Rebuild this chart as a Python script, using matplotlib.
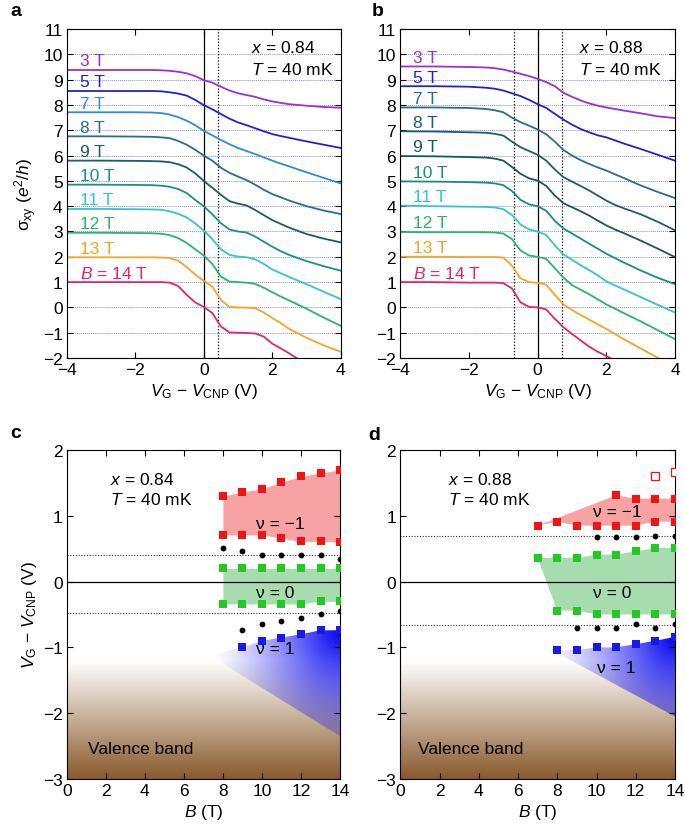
import numpy as np
import matplotlib
matplotlib.use("Agg")
import matplotlib.pyplot as plt
from matplotlib.patches import Polygon

##############################
# DATA
##############################

# gate voltage grid (V) shared by the sigma_xy traces
gate_V = [-4, -3, -2, -1.5, -1.25, -1, -0.75, -0.5, -0.25, 0, 0.25, 0.5, 0.75,
          1, 1.25, 1.5, 1.75, 2, 2.25, 2.5, 3, 3.5, 4]

field_labels = ["3 T", "5 T", "7 T", "8 T", "9 T", "10 T", "11 T", "12 T", "13 T", "$B$ = 14 T"]

# panel a, x = 0.84
a_3T = [9.38, 9.38, 9.38, 9.38, 9.37, 9.35, 9.31, 9.25, 9.14, 8.98, 8.88, 8.72, 8.57,
        8.46, 8.39, 8.32, 8.22, 8.14, 8.08, 8.03, 7.97, 7.92, 7.89]
a_5T = [8.55, 8.55, 8.55, 8.55, 8.54, 8.5, 8.45, 8.37, 8.2, 7.99, 7.83, 7.64, 7.46,
        7.31, 7.2, 7.08, 6.96, 6.85, 6.77, 6.7, 6.56, 6.43, 6.3]
a_7T = [7.71, 7.71, 7.71, 7.7, 7.68, 7.62, 7.52, 7.38, 7.2, 6.98, 6.8, 6.62, 6.45,
        6.3, 6.18, 6.06, 5.93, 5.8, 5.68, 5.57, 5.34, 5.12, 4.9]
a_8T = [6.76, 6.76, 6.75, 6.74, 6.72, 6.69, 6.58, 6.43, 6.23, 6.0, 5.8, 5.52, 5.32,
        5.17, 5.03, 4.85, 4.65, 4.48, 4.35, 4.22, 4.0, 3.83, 3.69]
a_9T = [5.8, 5.8, 5.79, 5.78, 5.77, 5.74, 5.66, 5.53, 5.3, 5.0, 4.73, 4.45, 4.2,
        4.1, 4.03, 3.85, 3.65, 3.45, 3.3, 3.15, 2.9, 2.72, 2.57]
a_10T = [4.85, 4.85, 4.84, 4.83, 4.81, 4.77, 4.68, 4.52, 4.25, 4.0, 3.68, 3.33, 3.08,
         3.0, 2.96, 2.8, 2.6, 2.4, 2.22, 2.07, 1.83, 1.63, 1.45]
a_11T = [3.89, 3.89, 3.88, 3.87, 3.86, 3.8, 3.7, 3.56, 3.32, 3.04, 2.7, 2.3, 2.08,
         2.01, 1.98, 1.9, 1.72, 1.5, 1.35, 1.2, 0.92, 0.62, 0.33]
a_12T = [2.95, 2.95, 2.94, 2.93, 2.91, 2.86, 2.74, 2.55, 2.3, 2.05, 1.72, 1.22, 1.02,
         1.0, 0.98, 0.93, 0.78, 0.6, 0.43, 0.27, -0.05, -0.4, -0.73]
a_13T = [1.98, 1.98, 1.98, 1.98, 1.97, 1.95, 1.85, 1.6, 1.3, 1.05, 0.82, 0.3, 0.02,
         0.0, -0.01, -0.03, -0.2, -0.42, -0.62, -0.85, -1.2, -1.5, -1.75]
a_14T = [1.0, 1.0, 1.0, 1.0, 1.0, 0.98, 0.85, 0.5, 0.2, 0.02, -0.22, -0.75, -0.99,
         -1.0, -1.01, -1.03, -1.15, -1.43, -1.62, -1.82, -2.25, -2.6, -2.95]

# panel b, x = 0.88
b_3T = [9.52, 9.52, 9.5, 9.48, 9.45, 9.4, 9.32, 9.23, 9.14, 9.03, 8.9, 8.74, 8.48,
        8.32, 8.18, 8.06, 7.97, 7.9, 7.84, 7.78, 7.67, 7.55, 7.48]
b_5T = [8.74, 8.74, 8.72, 8.68, 8.64, 8.57, 8.46, 8.35, 8.2, 8.03, 7.88, 7.65, 7.42,
        7.22, 7.05, 6.92, 6.8, 6.72, 6.6, 6.48, 6.26, 6.03, 5.8]
b_7T = [7.9, 7.9, 7.88, 7.84, 7.79, 7.71, 7.5, 7.32, 7.18, 7.03, 6.84, 6.55, 6.22,
        6.0, 5.82, 5.67, 5.53, 5.41, 5.26, 5.12, 4.82, 4.56, 4.32]
b_8T = [6.96, 6.95, 6.92, 6.9, 6.86, 6.79, 6.55, 6.33, 6.18, 6.03, 5.8, 5.45, 5.15,
        4.97, 4.8, 4.62, 4.42, 4.22, 4.05, 3.92, 3.68, 3.38, 3.05]
b_9T = [5.98, 5.97, 5.94, 5.92, 5.88, 5.8, 5.55, 5.28, 5.1, 5.01, 4.8, 4.42, 4.12,
        3.96, 3.8, 3.63, 3.43, 3.24, 3.08, 2.94, 2.64, 2.32, 1.99]
b_10T = [4.98, 4.97, 4.95, 4.93, 4.9, 4.83, 4.6, 4.25, 4.07, 4.0, 3.82, 3.42, 3.12,
         2.92, 2.72, 2.52, 2.32, 2.12, 1.95, 1.78, 1.46, 1.17, 0.92]
b_11T = [4.02, 4.0, 3.98, 3.97, 3.95, 3.88, 3.65, 3.28, 3.08, 3.0, 2.86, 2.45, 2.1,
         1.88, 1.67, 1.47, 1.27, 1.03, 0.87, 0.72, 0.41, 0.1, -0.2]
b_12T = [2.98, 2.97, 2.97, 2.97, 2.96, 2.92, 2.7, 2.25, 2.05, 2.0, 1.92, 1.55, 1.18,
         0.88, 0.7, 0.52, 0.32, 0.12, -0.05, -0.22, -0.55, -0.9, -1.25]
b_13T = [2.0, 2.0, 1.99, 1.99, 1.99, 1.97, 1.65, 1.15, 1.0, 0.97, 0.9, 0.5, 0.12,
         -0.1, -0.3, -0.48, -0.67, -0.85, -1.05, -1.25, -1.62, -1.99, -2.35]
b_14T = [1.0, 1.0, 0.98, 0.98, 0.98, 0.96, 0.75, 0.2, 0.02, 0.0, -0.08, -0.45, -0.78,
         -1.05, -1.3, -1.55, -1.75, -1.92, -2.1, -2.25, -2.6, -2.9, -3.2]

# panel c, x = 0.84 : gap edges vs magnetic field
c_B = [8, 9, 10, 11, 12, 13, 14]
c_red_top = [1.30, 1.36, 1.41, 1.51, 1.60, 1.65, 1.70]
c_red_bot = [0.71, 0.71, 0.71, 0.66, 0.61, 0.61, 0.60]
c_dot_top = [0.51, 0.46, 0.41, 0.41, 0.41, 0.41, 0.35]
c_green_top = [0.20, 0.20, 0.20, 0.20, 0.20, 0.20, 0.20]
c_green_bot = [-0.34, -0.34, -0.34, -0.34, -0.34, -0.30, -0.30]
c_B_low = [9, 10, 11, 12, 13, 14]
c_dot_bot = [-0.74, -0.65, -0.60, -0.55, -0.50, -0.45]
c_blue = [-1.00, -0.90, -0.85, -0.80, -0.74, -0.74]
c_dotted = [0.40, -0.47]
c_wedge_tip = (7.3, -1.12)
c_wedge_low = -2.35

# panel d, x = 0.88
d_B = [7, 8, 9, 10, 11, 12, 13, 14]
d_red_bot = [0.85, 0.91, 0.85, 0.85, 0.85, 0.85, 0.91, 0.91]
d_B_redtop = [11, 12, 13, 14]
d_red_top = [1.31, 1.26, 1.26, 1.26]
d_B_open = [13, 14]
d_red_open = [1.61, 1.66]
d_green_top = [0.36, 0.36, 0.36, 0.41, 0.41, 0.46, 0.51, 0.51]
d_B_green_bot = [8, 9, 10, 11, 12, 13, 14]
d_green_bot = [-0.44, -0.44, -0.50, -0.50, -0.50, -0.50, -0.50]
d_B_dot_top = [10, 11, 12, 13, 14]
d_dot_top = [0.67, 0.67, 0.67, 0.70, 0.70]
d_B_dot_bot = [9, 10, 11, 12, 13, 14]
d_dot_bot = [-0.70, -0.70, -0.70, -0.65, -0.70, -0.65]
d_B_blue = [8, 9, 10, 11, 12, 13, 14]
d_blue = [-1.04, -1.04, -1.00, -1.00, -0.95, -0.90, -0.84]
d_dotted = [0.69, -0.66]
d_wedge_tip = (8.2, -1.12)
d_wedge_low = -2.05

##############################
# STYLE
##############################

plt.rcParams['font.family'] = 'Liberation Sans'
plt.rcParams['mathtext.fontset'] = 'custom'
plt.rcParams['mathtext.rm'] = 'Liberation Sans'
plt.rcParams['mathtext.it'] = 'Liberation Sans:italic'
plt.rcParams['mathtext.bf'] = 'Liberation Sans:bold'
plt.rcParams['axes.linewidth'] = 0.8
fs = 12.5

colors_a = ['#9633d8', '#2222cc', '#2f8ecb', '#2b6c94', '#1d5c60', '#1b8e8e',
            '#36c2d2', '#2cb46a', '#f4a524', '#e3246d']
colors_b = ['#9633d8', '#2222cc', '#2b6b8e', '#1f5d68', '#1c5657', '#1d8a88',
            '#36c2d2', '#2cb46a', '#f4a524', '#e3246d']

red = '#f01414'
green = '#22c922'
blue = '#1a1ae8'


def sigmaPanel(ax, curves, colors, dotted, info, info_x):
    for yv in range(-1, 11):
        ax.axhline(yv, color='#8585e8', ls=(0, (1, 1)), lw=0.7, zorder=0)
    ax.axvline(0, color='black', lw=0.9, zorder=1)
    for xv in dotted:
        ax.axvline(xv, color='black', ls=(0, (1, 1.5)), lw=0.9, zorder=1)
    for s, c, lab in zip(curves, colors, field_labels):
        ax.plot(gate_V, s, color=c, lw=1.3, zorder=2)
        ax.text(-3.62, s[0] + 0.36, lab, color=c, fontsize=fs, va='center', ha='left')
    ax.text(info_x, 10.28, "$x$ = " + info, fontsize=fs, va='center')
    ax.text(info_x, 9.42, "$T$ = 40 mK", fontsize=fs, va='center')
    ax.set_xlim(-4, 4)
    ax.set_ylim(-2, 11)
    ax.set_xticks([-4, -2, 0, 2, 4])
    ax.set_yticks(range(-2, 12))
    ax.set_xlabel(r'$V_{\rm G}$ $-$ $V_{\rm CNP}$ (V)', fontsize=fs, labelpad=3)
    ax.tick_params(direction='in', top=True, right=True, length=4.5, width=0.8,
                   labelsize=fs, pad=3)


def shadeValence(ax):
    t = np.linspace(0, 1, 256)[:, None, None]
    brown = np.array([0.54, 0.35, 0.17])
    img = brown + (1 - brown) * t
    img = np.repeat(img, 2, axis=1)
    ax.imshow(img, extent=[0, 14, -3, -1.22], origin='lower', aspect='auto',
              zorder=0, interpolation='bilinear')


def shadeWedge(ax, Bs, Vs, tip, low):
    pts = [tip] + list(zip(Bs, Vs)) + [(14, low)]
    poly = Polygon(pts, closed=True, facecolor='none', edgecolor='none')
    ax.add_patch(poly)
    bb = np.linspace(0, 14, 400)
    vv = np.linspace(-3, 2, 400)
    BB, VV = np.meshgrid(bb, vv)
    d = np.hypot((14 - BB) / 6.7, (VV - Vs[-1]) / 2.4)
    alpha = np.clip(1 - d, 0, 1) ** 1.3
    img = np.zeros(BB.shape + (4,))
    img[..., 2] = 0.95
    img[..., 3] = alpha
    im = ax.imshow(img, extent=[0, 14, -3, 2], origin='lower', aspect='auto', zorder=1)
    im.set_clip_path(poly)


def gapPanel(ax, info, info_x, dotted, vb_x):
    shadeValence(ax)
    ax.axhline(0, color='black', lw=0.9, zorder=2)
    for yv in dotted:
        ax.axhline(yv, color='#333333', ls=(0, (1, 1.5)), lw=0.8, zorder=2)
    ax.text(info_x, 1.56, "$x$ = " + info, fontsize=fs, va='center')
    ax.text(info_x, 1.26, "$T$ = 40 mK", fontsize=fs, va='center')
    ax.text(vb_x, -2.54, "Valence band", fontsize=fs, va='center')
    ax.set_xlim(0, 14)
    ax.set_ylim(-3, 2)
    ax.set_xticks(range(0, 15, 2))
    ax.set_yticks(range(-3, 3))
    ax.set_xlabel('$B$ (T)', fontsize=fs, labelpad=3)
    ax.tick_params(direction='in', top=True, right=True, length=4.5, width=0.8,
                   labelsize=fs, pad=3)


sq = dict(marker='s', ms=6.3, ls='none', mew=0, zorder=4)
dot = dict(marker='o', ms=4.2, ls='none', color='black', mew=0, zorder=4)

##############################
# FIGURE
##############################

fig = plt.figure(figsize=(6.85, 8.29), dpi=100)

axA = fig.add_axes([0.0974, 0.5669, 0.400, 0.3969])
axB = fig.add_axes([0.5844, 0.5669, 0.401, 0.3969])
axC = fig.add_axes([0.0974, 0.0591, 0.399, 0.3969])
axD = fig.add_axes([0.5844, 0.0591, 0.401, 0.3969])

sigmaPanel(axA, [a_3T, a_5T, a_7T, a_8T, a_9T, a_10T, a_11T, a_12T, a_13T, a_14T],
           colors_a, [0.42], "0.84", 1.37)
axA.set_ylabel('σ$_{\\rm xy}$ ($e^2/h$)', fontsize=fs, labelpad=3)
sigmaPanel(axB, [b_3T, b_5T, b_7T, b_8T, b_9T, b_10T, b_11T, b_12T, b_13T, b_14T],
           colors_b, [-0.68, 0.72], "0.88", 1.21)

# panel c
gapPanel(axC, "0.84", 2.22, c_dotted, 1.1)
axC.set_ylabel(r'$V_{\rm G}$ $-$ $V_{\rm CNP}$ (V)', fontsize=fs, labelpad=3)
shadeWedge(axC, c_B_low, c_blue, c_wedge_tip, c_wedge_low)
axC.fill_between(c_B, c_red_bot, c_red_top, color='#f8a3a3', lw=0, zorder=1)
axC.fill_between(c_B, c_green_bot, c_green_top, color='#a7dcae', lw=0, zorder=1)
axC.plot(c_B, c_red_top, color=red, **sq)
axC.plot(c_B, c_red_bot, color=red, **sq)
axC.plot(c_B, c_green_top, color=green, **sq)
axC.plot(c_B, c_green_bot, color=green, **sq)
axC.plot(c_B_low, c_blue, color=blue, **sq)
axC.plot(c_B, c_dot_top, **dot)
axC.plot(c_B_low, c_dot_bot, **dot)
axC.text(9.7, 0.89, "ν = −1", fontsize=fs, va='center', zorder=5)
axC.text(9.7, -0.16, "ν = 0", fontsize=fs, va='center', zorder=5)
axC.text(9.7, -1.02, "ν = 1", fontsize=fs, va='center', zorder=5)

# panel d
gapPanel(axD, "0.88", 2.45, d_dotted, 0.92)
shadeWedge(axD, d_B_blue, d_blue, d_wedge_tip, d_wedge_low)
red_poly = list(zip([d_B[0]] + d_B_redtop, [d_red_bot[0]] + d_red_top)) + \
    list(zip(d_B[::-1], d_red_bot[::-1]))
axD.add_patch(Polygon(red_poly, closed=True, facecolor='#f8a3a3', edgecolor='none', zorder=1))
green_poly = list(zip(d_B, d_green_top)) + list(zip(d_B_green_bot[::-1], d_green_bot[::-1]))
axD.add_patch(Polygon(green_poly, closed=True, facecolor='#a7dcae', edgecolor='none', zorder=1))
axD.plot(d_B_redtop, d_red_top, color=red, **sq)
axD.plot(d_B, d_red_bot, color=red, **sq)
axD.plot(d_B_open, d_red_open, marker='s', ms=6.3, ls='none', mfc='white', mec=red,
         mew=0.9, zorder=4)
axD.plot(d_B, d_green_top, color=green, **sq)
axD.plot(d_B_green_bot, d_green_bot, color=green, **sq)
axD.plot(d_B_blue, d_blue, color=blue, **sq)
axD.plot(d_B_dot_top, d_dot_top, **dot)
axD.plot(d_B_dot_bot, d_dot_bot, **dot)
axD.text(9.84, 1.07, "ν = −1", fontsize=fs, va='center', zorder=5)
axD.text(9.84, -0.17, "ν = 0", fontsize=fs, va='center', zorder=5)
axD.text(10.0, -1.30, "ν = 1", fontsize=fs, va='center', zorder=5)

# panel letters
for lab, px, py in [("a", 10, 12), ("b", 372, 12), ("c", 10, 433), ("d", 368, 436)]:
    fig.text(px / 685, 1 - py / 829, lab, fontsize=14, fontweight='bold', va='center')

fig.savefig("out.png", dpi=100)
